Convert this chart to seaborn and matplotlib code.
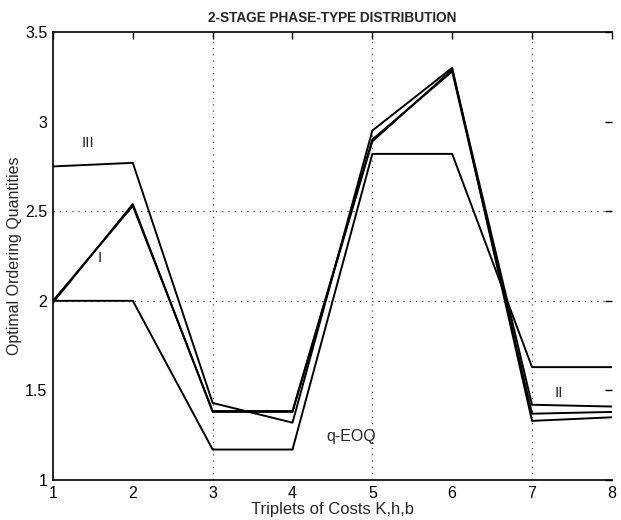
import matplotlib
matplotlib.use("Agg")
import matplotlib.pyplot as plt
import seaborn as sns
import pandas as pd

# Cost triplets (K, h, b) on the horizontal axis
triplets = [1, 2, 3, 4, 5, 6, 7, 8]

# Optimal ordering quantities for each policy
q_eoq = [2.00, 2.00, 1.17, 1.17, 2.82, 2.82, 1.63, 1.63]
policy_iii = [2.75, 2.77, 1.43, 1.32, 2.95, 3.30, 1.33, 1.35]
policy_i = [2.00, 2.53, 1.385, 1.385, 2.90, 3.28, 1.37, 1.38]
policy_ii = [1.99, 2.54, 1.38, 1.38, 2.89, 3.29, 1.42, 1.41]

series = {"q-EOQ": q_eoq, "III": policy_iii, "I": policy_i, "II": policy_ii}

sns.set_style("white")
plt.rcParams["font.family"] = ["Liberation Sans", "DejaVu Sans"]

fig = plt.figure(figsize=(6.21, 5.2), dpi=100)
ax = fig.add_axes([0.0853, 0.0769, 0.900, 0.8615])

# dotted reference grid
for gx in [3, 5, 7]:
    ax.axvline(gx, color="#444444", lw=0.9, ls=(0, (1, 4)), zorder=0)
for gy in [2.0, 2.5]:
    ax.axhline(gy, color="#444444", lw=0.9, ls=(0, (1, 4)), zorder=0)

for name, vals in series.items():
    df = pd.DataFrame({"x": triplets, "y": vals})
    sns.lineplot(data=df, x="x", y="y", ax=ax, color="black", lw=1.4,
                 estimator=None, sort=False)

# curve labels
ax.text(1.44, 2.88, "III", fontsize=11, ha="center", va="center")
ax.text(1.59, 2.24, "I", fontsize=11, ha="center", va="center")
ax.text(7.33, 1.487, "II", fontsize=11, ha="center", va="center")
ax.text(4.73, 1.245, "q-EOQ", fontsize=11.5, ha="center", va="center")

ax.set_xlim(1, 8)
ax.set_ylim(1, 3.5)
ax.set_xticks(triplets)
ax.set_yticks([1, 1.5, 2, 2.5, 3, 3.5])
ax.set_yticklabels(["1", "1.5", "2", "2.5", "3", "3.5"])
ax.tick_params(direction="in", length=5, width=1, top=True, right=True,
               labelsize=11.5, pad=4, colors="black")

for side in ["left", "bottom", "top"]:
    ax.spines[side].set_color("black")
    ax.spines[side].set_linewidth(1.2)
ax.spines["right"].set_visible(False)

ax.set_title("2-STAGE PHASE-TYPE DISTRIBUTION", fontsize=9.8,
             fontweight="bold", pad=7)
ax.set_xlabel("Triplets of Costs K,h,b", fontsize=12, labelpad=1)
ax.set_ylabel("Optimal Ordering Quantities", fontsize=11.5, labelpad=2)

fig.savefig("out.png", dpi=100)
